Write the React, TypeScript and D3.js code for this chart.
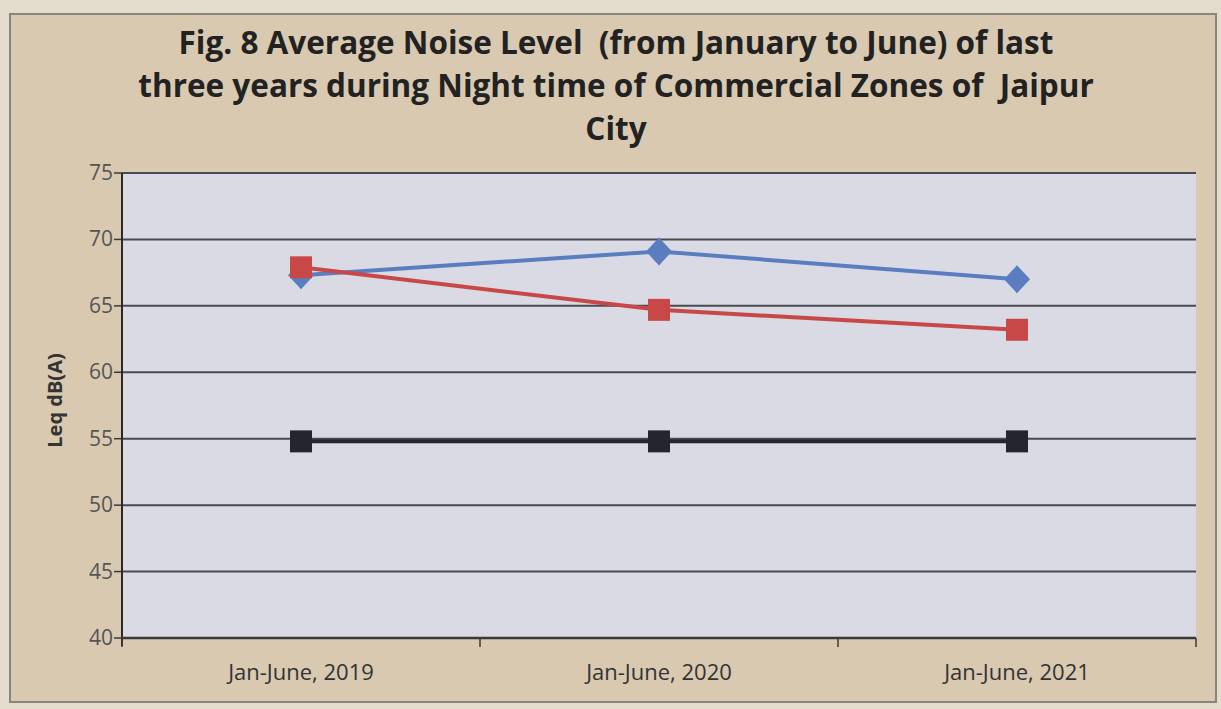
import React from "react";
import * as d3 from "d3";

const categories = ["Jan-June, 2019", "Jan-June, 2020", "Jan-June, 2021"];
const seriesBlue = [67.3, 69.1, 67.0];
const seriesRed = [67.9, 64.7, 63.2];
const seriesBlack = [54.8, 54.8, 54.8];
const yTicks = [40, 45, 50, 55, 60, 65, 70, 75];
const titleLines = [
  "Fig. 8 Average Noise Level  (from January to June) of last",
  "three years during Night time of Commercial Zones of  Jaipur",
  "City",
];

const W = 1221;
const H = 709;
const M = { left: 122, right: 1196, top: 173, bottom: 638 };

export default function App() {
  const x = d3
    .scalePoint<string>()
    .domain(categories)
    .range([M.left, M.right])
    .padding(0.5);
  const y = d3.scaleLinear().domain([40, 75]).range([M.bottom, M.top]);
  const step = x.step();
  const bandEdges = d3.range(categories.length + 1).map((i) => M.left + i * step);

  const line = d3
    .line<number>()
    .x((_, i) => x(categories[i]) as number)
    .y((d) => y(d));

  const series = [
    { data: seriesBlue, color: "#5a7dc0", marker: "diamond" },
    { data: seriesRed, color: "#c84848", marker: "square" },
    { data: seriesBlack, color: "#25252f", marker: "square" },
  ];

  const diamond = "M0,-14L13,0L0,14L-13,0Z";

  return (
    <svg
      width={W}
      height={H}
      style={{ position: "absolute", left: 0, top: 0 }}
      fontFamily="'Open Sans', Lato, sans-serif"
    >
      <rect x={0} y={0} width={W} height={H} fill="#e3dccd" />
      <rect x={10} y={14} width={1206} height={688} fill="#d8c9b0" stroke="#8a857c" strokeWidth={2} />
      <rect x={M.left} y={M.top} width={M.right - M.left} height={M.bottom - M.top} fill="#dadae4" />

      {titleLines.map((t, i) => (
        <text
          key={i}
          x={616}
          y={54 + i * 43}
          textAnchor="middle"
          fontSize={31.5}
          fontWeight={700}
          fill="#222"
          style={{ whiteSpace: "pre" }}
        >
          {t}
        </text>
      ))}

      {yTicks.map((t) => (
        <g key={t}>
          <line x1={M.left} x2={M.right} y1={y(t)} y2={y(t)} stroke="#4a4a52" strokeWidth={2} />
          <line x1={M.left - 8} x2={M.left} y1={y(t)} y2={y(t)} stroke="#3a3a3a" strokeWidth={1.5} />
          <text x={M.left - 9} y={y(t) + 7} textAnchor="end" fontSize={21} fill="#555">
            {t}
          </text>
        </g>
      ))}

      <line x1={M.left} x2={M.left} y1={M.top} y2={M.bottom + 8} stroke="#2a2a2a" strokeWidth={2} />
      <line x1={M.left} x2={M.right} y1={M.bottom} y2={M.bottom} stroke="#3a3a3a" strokeWidth={2.5} />
      {bandEdges.map((bx, i) => (
        <line key={i} x1={bx} x2={bx} y1={M.bottom} y2={M.bottom + 9} stroke="#3a3a3a" strokeWidth={1.5} />
      ))}
      {categories.map((c) => (
        <text key={c} x={x(c)} y={680} textAnchor="middle" fontSize={22} fill="#333">
          {c}
        </text>
      ))}

      <text
        transform={`translate(62, ${(M.top + M.bottom) / 2 - 5}) rotate(-90)`}
        textAnchor="middle"
        fontSize={20}
        fontWeight={700}
        fill="#333"
      >
        Leq dB(A)
      </text>

      {series.map((s, si) => (
        <g key={si}>
          <path d={line(s.data) || ""} fill="none" stroke={s.color} strokeWidth={4} />
          {s.data.map((v, i) => {
            const cx = x(categories[i]) as number;
            const cy = y(v);
            return s.marker === "diamond" ? (
              <path key={i} d={diamond} transform={`translate(${cx},${cy})`} fill={s.color} />
            ) : (
              <rect key={i} x={cx - 11} y={cy - 11} width={22} height={22} fill={s.color} />
            );
          })}
        </g>
      ))}
    </svg>
  );
}
